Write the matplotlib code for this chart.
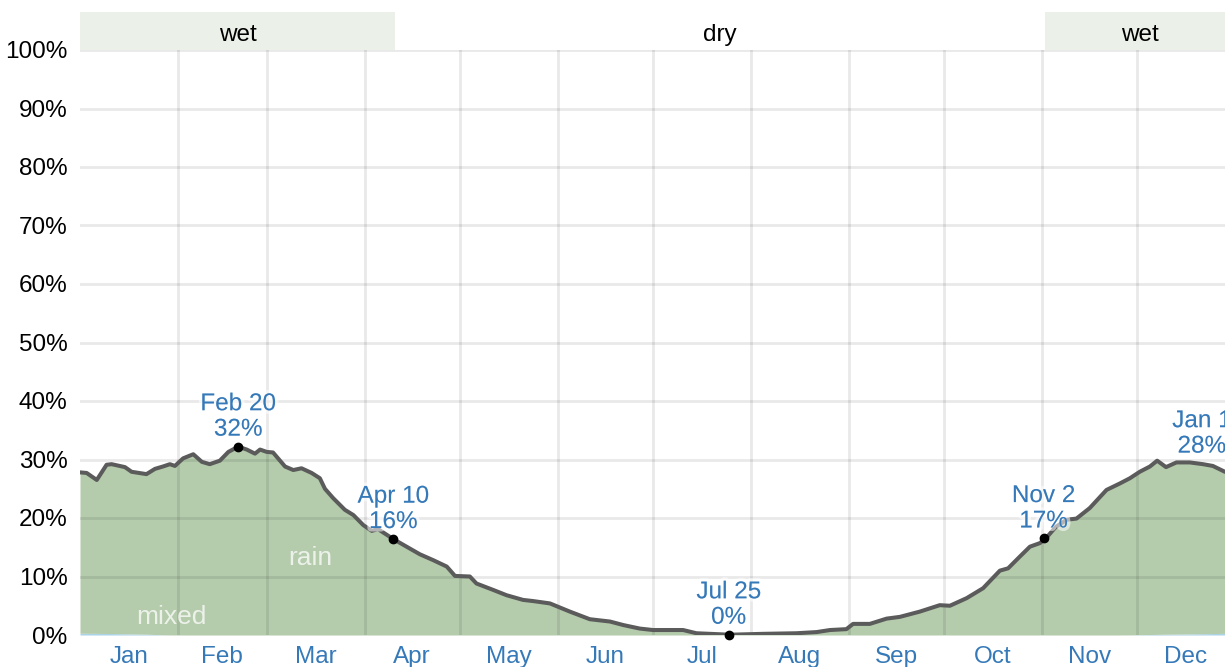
import numpy as np
import matplotlib.pyplot as plt
import matplotlib.patheffects as pe

plt.rcParams['font.family'] = ['Liberation Sans', 'DejaVu Sans']

# daily chance of precipitation (day of year, %)
days = [0, 2.1, 5.3, 8.4, 10, 14.2, 16.3, 21, 23.7, 26.2, 28.4, 30, 32.6, 35.8,
        38.5, 41, 44.2, 46.9, 50, 52.7, 55.3, 56.9, 59, 61, 64.8, 67.4, 70,
        73.2, 75.8, 77.4, 80, 83.7, 86.4, 89.5, 92.2, 94.2, 99, 103.2, 107.4,
        111.6, 115.9, 118.5, 123.2, 125.3, 130.6, 134.8, 140, 143.2, 148.5,
        154.8, 161.1, 167.5, 171.7, 176.9, 181.1, 190.6, 194.8, 205.4, 215.9,
        226.4, 232.8, 237, 242.2, 244.3, 249.6, 254.9, 259.1, 265.4, 271.7,
        274.9, 280.2, 285.4, 290.7, 293.3, 297, 300.2, 303.3, 305.2, 308.4,
        311.8, 314.9, 319.1, 324.4, 328.6, 331.8, 334.9, 338.1, 340.4, 343.2,
        346.5, 350.7, 354.9, 358, 361.8, 365]
total = [27.8, 27.7, 26.5, 29.1, 29.2, 28.7, 27.9, 27.5, 28.4, 28.8, 29.2, 28.9,
         30.2, 30.9, 29.6, 29.2, 29.8, 31.3, 32.2, 31.7, 31.0, 31.7, 31.3, 31.2,
         28.8, 28.2, 28.5, 27.7, 26.8, 25.0, 23.4, 21.4, 20.5, 18.8, 17.8, 18.1,
         16.4, 15.1, 13.8, 12.8, 11.7, 10.1, 10.0, 8.8, 7.7, 6.8, 6.0, 5.8, 5.4,
         4.0, 2.7, 2.3, 1.7, 1.1, 0.85, 0.85, 0.3, 0.05, 0.2, 0.3, 0.5, 0.85,
         1.0, 1.9, 1.9, 2.8, 3.1, 4.0, 5.1, 5.0, 6.3, 8.0, 11.0, 11.4, 13.4,
         15.1, 15.7, 16.5, 18.5, 19.7, 19.9, 21.7, 24.8, 25.9, 26.8, 27.9, 28.8,
         29.8, 28.7, 29.5, 29.5, 29.2, 28.9, 27.9, 27.8]
mixed_days = [0, 10, 20, 28, 330, 345, 365]
mixed = [0.3, 0.25, 0.15, 0.0, 0.0, 0.15, 0.3]

months = ['Jan', 'Feb', 'Mar', 'Apr', 'May', 'Jun', 'Jul', 'Aug', 'Sep', 'Oct', 'Nov', 'Dec']
month_len = [31, 28, 31, 30, 31, 30, 31, 31, 30, 31, 30, 31]

labels = [('Feb 20', '32%', 50, 32.2, True), ('Apr 10', '16%', 99, 16.4, True),
          ('Jul 25', '0%', 205, 0.05, True), ('Nov 2', '17%', 304.5, 16.5, True),
          ('Jan 1', '28%', 354.5, 29.3, False)]
seasons = [(0, 99.5, 'wet'), (99.5, 305, 'dry'), (305, 365, 'wet')]

blue = '#3579b8'
fs = 17.5
starts = np.concatenate([[0], np.cumsum(month_len)])

fig = plt.figure(figsize=(12.25, 6.67), dpi=100)
ax = fig.add_axes([80/1225, 1-635/667, 1155/1225, 585/667])
band = fig.add_axes([80/1225, 1-50/667, 1155/1225, 38/667], sharex=ax)

mixed_i = np.interp(days, mixed_days, mixed)
ax.fill_between(days, 0, mixed_i, color='#a9d3e6', lw=0, zorder=1)
ax.fill_between(days, mixed_i, total, color='#b4cbac', lw=0, zorder=1)
ax.plot(days, total, color='#5b5b5b', lw=2.9, zorder=3, solid_joinstyle='round')

# grid above the fill
for s in starts[1:-1]:
    ax.axvline(s, color='black', alpha=0.085, lw=2, zorder=2)
for v in range(10, 101, 10):
    ax.axhline(v, color='black', alpha=0.085, lw=2, zorder=2)

ax.text(72.7, 13.2, 'rain', color='white', alpha=0.75, fontsize=19, ha='center', va='center', zorder=4)
ax.text(29, 3.1, 'mixed', color='white', alpha=0.75, fontsize=19, ha='center', va='center', zorder=4)

halo = [pe.withStroke(linewidth=5, foreground=(1, 1, 1, 0.55))]
for t1, t2, d, v, dot in labels:
    if dot:
        ax.plot(d, v, 'o', color='black', ms=6, zorder=5, clip_on=False)
    ax.annotate(t1 + '\n' + t2, (d, v), xytext=(0, 6), textcoords='offset pixels',
                ha='center', va='bottom', color=blue, fontsize=fs, linespacing=1.2,
                path_effects=halo, zorder=6)

ax.set_xlim(0, 365)
ax.set_ylim(0, 100)
ax.set_yticks(range(0, 101, 10))
ax.set_yticklabels([f'{v}%' for v in range(0, 101, 10)])
ax.set_xticks(starts[:-1] + np.array(month_len) / 2)
ax.set_xticklabels(months)
ax.tick_params(axis='x', length=0, pad=8, labelsize=fs, labelcolor=blue)
ax.tick_params(axis='y', length=0, pad=9, labelsize=fs)
for sp in ax.spines.values():
    sp.set_visible(False)

for a, b, name in seasons:
    if name == 'wet':
        band.axvspan(a, b, color='#ebf0e8', lw=0)
    band.text((a + b) / 2, 0.4, name, ha='center', va='center', fontsize=fs)
band.set_ylim(0, 1)
band.axis('off')

fig.savefig('out.png', dpi=100)
